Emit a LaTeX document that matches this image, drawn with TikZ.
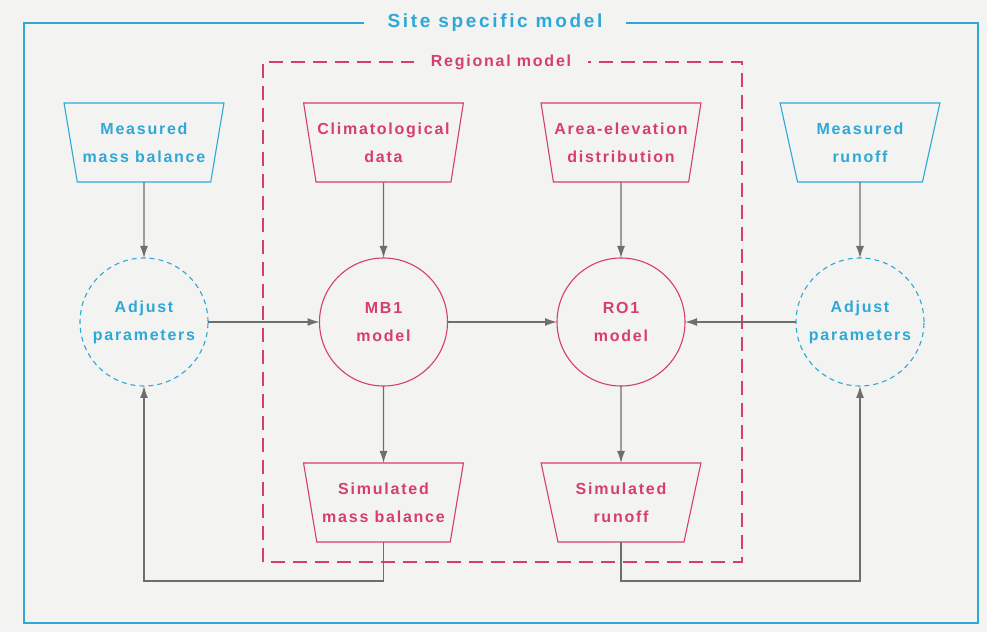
\documentclass[tikz,border=0pt]{standalone}
\usepackage{fontspec}
\setmainfont{Liberation Sans}[LetterSpace=11]
\usepackage{tikz}
\usetikzlibrary{shapes.geometric, arrows.meta}

\definecolor{siteblue}{RGB}{45,168,215}
\definecolor{regpink}{RGB}{214,62,112}
\definecolor{flowgray}{RGB}{110,110,110}
\definecolor{paper}{RGB}{243,243,241}

\begin{document}
\begin{tikzpicture}[x=1pt,y=1pt,every node/.style={outer sep=0pt,align=center,font=\fontsize{16}{28}\selectfont\bfseries}]
\tikzstyle{trap}=[draw,trapezium,shape border rotate=180,trapezium left angle=73,trapezium right angle=73,trapezium stretches=true,minimum width=160,minimum height=79,inner sep=0pt,line width=1.1pt]
\tikzstyle{model}=[draw,circle,minimum size=128,inner sep=0pt,line width=1.1pt]
\tikzstyle{adjust}=[model,dash pattern=on 5pt off 4pt]
\tikzstyle{flow}=[draw=flowgray,line width=1.2pt,-{Latex[length=12pt,width=8pt]}]

\fill[paper] (0,0) rectangle (987,632);
\useasboundingbox (0,0) rectangle (987,632);

% site specific frame
\draw[siteblue,line width=1.1pt] (24,9) rectangle (978,609);
\node (site) [fill=paper,text=siteblue,inner xsep=24pt,font=\fontsize{19}{20}\selectfont\bfseries\addfontfeatures{LetterSpace=14}] at (495,609) {Site specific model};

% regional frame
\draw[regpink,line width=1.1pt,dash pattern=on 14pt off 8pt] (263,70) rectangle (742,570);
\node (region) [fill=paper,text=regpink,inner xsep=17pt] at (501,570) {Regional model};

\node (mmb) [trap,siteblue] at (144,489.5) {Measured\\mass balance};
\node (clim) [trap,regpink] at (383.5,489.5) {Climatological\\data};
\node (area) [trap,regpink] at (621,489.5) {Area-elevation\\distribution};
\node (mro) [trap,siteblue] at (860,489.5) {Measured\\runoff};

\node (adjL) [adjust,siteblue] at (144,310) {Adjust\\parameters};
\node (mb1) [model,regpink] at (383.5,310) {MB1\\model};
\node (ro1) [model,regpink] at (621,310) {RO1\\model};
\node (adjR) [adjust,siteblue] at (860,310) {Adjust\\parameters};

\node (smb) [trap,regpink] at (383.5,129.5) {Simulated\\mass balance};
\node (sro) [trap,regpink] at (621,129.5) {Simulated\\runoff};

\draw[flow] (mmb) -- (adjL);
\draw[flow] (clim) -- (mb1);
\draw[flow] (area) -- (ro1);
\draw[flow] (mro) -- (adjR);
\draw[flow] (adjL) -- (mb1);
\draw[flow] (mb1) -- (ro1);
\draw[flow] (adjR) -- (ro1);
\draw[flow] (mb1) -- (smb);
\draw[flow] (ro1) -- (sro);
\draw[flow] (smb.south) -- ++(0,-39) -| (adjL.south);
\draw[flow] (sro.south) -- ++(0,-39) -| (adjR.south);
\end{tikzpicture}
\end{document}
